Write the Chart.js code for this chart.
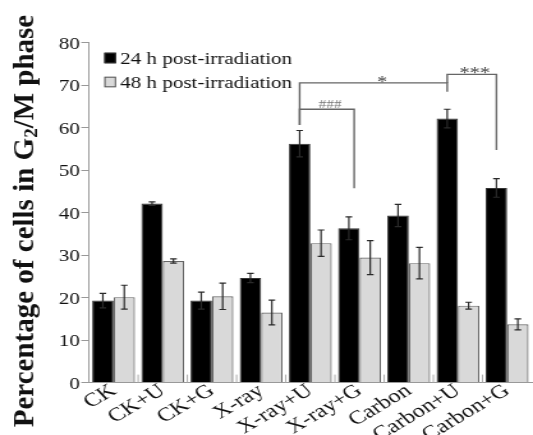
<!DOCTYPE html>
<html>
<head>
<meta charset="utf-8">
<script src="https://cdn.jsdelivr.net/npm/chart.js@4.4.0/dist/chart.umd.min.js"></script>
<style>
  html, body { margin: 0; padding: 0; background: #fff; overflow: hidden; }
  /* the original figure is stretched horizontally, so draw narrow and stretch */
  #wrap { width: 417px; height: 435px; transform: scaleX(1.2782); transform-origin: 0 0; }
</style>
</head>
<body>
<div id="wrap"><canvas id="g2mChart"></canvas></div>
<script>
const STRETCH = 533 / 417

const categories = ['CK', 'CK+U', 'CK+G', 'X-ray', 'X-ray+U', 'X-ray+G', 'Carbon', 'Carbon+U', 'Carbon+G']
const values24h = [19.3, 42.1, 19.3, 24.6, 56.2, 36.3, 39.3, 62.1, 45.8]
const errors24h = [1.7, 0.4, 2.0, 1.1, 3.1, 2.7, 2.6, 2.2, 2.2]
const values48h = [20.1, 28.6, 20.3, 16.5, 32.8, 29.4, 28.1, 18.1, 13.7]
const errors48h = [2.8, 0.5, 3.1, 2.9, 3.1, 4.0, 3.7, 0.8, 1.3]
const yTicks = [0, 10, 20, 30, 40, 50, 60, 70, 80]
const seriesLabels = ['24 h post-irradiation', '48 h post-irradiation']

// significance brackets between 24 h bars (heights in % units)
const brackets = [
  { from: 4, to: 7, y: 70.5, fromEnd: 60.6, toEnd: 68.4, label: '*' },
  { from: 7, to: 8, y: 72.5, fromEnd: 70.5, toEnd: 54.7, label: '***' },
  { from: 4, to: 5, y: 64.3, fromEnd: 60.6, toEnd: 45.7, label: '###' }
]

const serif = '"Liberation Serif", "Times New Roman", serif'

// error bars drawn on top of each bar
const errorBarPlugin = {
  id: 'errorBars',
  afterDatasetsDraw(chart) {
    const { ctx } = chart
    const y = chart.scales.y
    const errs = [errors24h, errors48h]
    ctx.save()
    ctx.strokeStyle = '#2a2a2a'
    ctx.lineWidth = 1.2
    chart.data.datasets.forEach((ds, di) => {
      chart.getDatasetMeta(di).data.forEach((bar, i) => {
        const top = y.getPixelForValue(ds.data[i] + errs[di][i])
        const bot = y.getPixelForValue(ds.data[i] - errs[di][i])
        const cap = 2.6
        ctx.beginPath()
        ctx.moveTo(bar.x, top)
        ctx.lineTo(bar.x, bot)
        ctx.moveTo(bar.x - cap, top)
        ctx.lineTo(bar.x + cap, top)
        ctx.moveTo(bar.x - cap, bot)
        ctx.lineTo(bar.x + cap, bot)
        ctx.stroke()
      })
    })
    ctx.restore()
  }
}

// brackets, legend, category ticks and the y title
const extrasPlugin = {
  id: 'extras',
  afterDraw(chart) {
    const { ctx, chartArea } = chart
    const x = chart.scales.x
    const y = chart.scales.y
    const bars = chart.getDatasetMeta(0).data

    // small inward ticks between categories
    ctx.save()
    ctx.strokeStyle = '#aaa'
    ctx.lineWidth = 1
    for (let i = 1; i < categories.length; i++) {
      const px = (x.getPixelForTick(i - 1) + x.getPixelForTick(i)) / 2
      ctx.beginPath()
      ctx.moveTo(px, chartArea.bottom)
      ctx.lineTo(px, chartArea.bottom - 8)
      ctx.stroke()
    }
    ctx.restore()

    // significance brackets
    ctx.save()
    ctx.strokeStyle = '#666'
    ctx.lineWidth = 1.4
    brackets.forEach((b) => {
      const x1 = bars[b.from].x
      let x2 = bars[b.to].x
      if (b.label === '###') x2 += bars[b.to].width * 0.25
      const yy = y.getPixelForValue(b.y)
      ctx.beginPath()
      ctx.moveTo(x1, y.getPixelForValue(b.fromEnd))
      ctx.lineTo(x1, yy)
      ctx.lineTo(x2, yy)
      ctx.lineTo(x2, y.getPixelForValue(b.toEnd))
      ctx.stroke()
      const small = b.label === '###'
      ctx.fillStyle = small ? '#777' : '#444'
      ctx.font = (small ? '12px ' : '16px ') + serif
      ctx.textAlign = 'center'
      ctx.textBaseline = 'alphabetic'
      ctx.fillText(b.label, x1 + (x2 - x1) * 0.56, yy + (small ? -1.5 : 4))
    })
    ctx.restore()

    // legend
    ctx.save()
    const lx = 81.6
    const rows = [
      { top: 52.7, fill: '#000', stroke: '#333', base: 64 },
      { top: 76.7, fill: '#d9d9d9', stroke: '#555', base: 88 }
    ]
    rows.forEach((r, i) => {
      ctx.fillStyle = r.fill
      ctx.fillRect(lx, r.top, 9.2, 10.6)
      ctx.strokeStyle = r.stroke
      ctx.lineWidth = 1
      ctx.strokeRect(lx + 0.5, r.top + 0.5, 8.2, 9.6)
      ctx.fillStyle = '#111'
      ctx.font = '16.5px ' + serif
      ctx.textAlign = 'left'
      ctx.textBaseline = 'alphabetic'
      ctx.fillText(seriesLabels[i], 93.9, r.base)
    })
    ctx.restore()

    // y title, un-stretched so it keeps normal proportions
    ctx.save()
    ctx.translate(26, 221)
    ctx.scale(1 / STRETCH, 1)
    ctx.rotate(-Math.PI / 2)
    ctx.fillStyle = '#111'
    ctx.textBaseline = 'alphabetic'
    ctx.textAlign = 'left'
    const big = 'bold 29px ' + serif
    const sub = 'bold 19px ' + serif
    const p1 = 'Percentage of cells in G'
    const p2 = '2'
    const p3 = '/M phase'
    ctx.font = big
    const w1 = ctx.measureText(p1).width
    const w3 = ctx.measureText(p3).width
    ctx.font = sub
    const w2 = ctx.measureText(p2).width
    let tx = -(w1 + w2 + w3) / 2
    ctx.font = big
    ctx.fillText(p1, tx, 0)
    tx += w1
    ctx.font = sub
    ctx.fillText(p2, tx, 4)
    tx += w2
    ctx.font = big
    ctx.fillText(p3, tx, 0)
    ctx.restore()
  }
}

new Chart(document.getElementById('g2mChart'), {
  type: 'bar',
  data: {
    labels: categories,
    datasets: [
      {
        label: seriesLabels[0],
        data: values24h,
        backgroundColor: '#000',
        borderColor: '#333',
        borderWidth: 1,
        categoryPercentage: 0.87,
        barPercentage: 1.0
      },
      {
        label: seriesLabels[1],
        data: values48h,
        backgroundColor: '#d9d9d9',
        borderColor: '#666',
        borderWidth: 1.2,
        categoryPercentage: 0.87,
        barPercentage: 1.0
      }
    ]
  },
  options: {
    responsive: true,
    maintainAspectRatio: false,
    animation: false,
    layout: {
      padding: { top: 42.5, right: 1, bottom: 0, left: 0 }
    },
    plugins: {
      legend: { display: false },
      tooltip: { enabled: false }
    },
    scales: {
      x: {
        grid: { display: false, drawTicks: false },
        border: { display: true, color: '#999', width: 1 },
        ticks: {
          autoSkip: false,
          maxRotation: 37,
          minRotation: 37,
          padding: -3,
          color: '#111',
          font: { family: serif, size: 19 }
        },
        afterFit(scale) {
          scale.height = 52.4
        }
      },
      y: {
        min: 0,
        max: 80,
        afterBuildTicks(scale) {
          scale.ticks = yTicks.map((v) => ({ value: v }))
        },
        grid: {
          drawOnChartArea: false,
          drawTicks: true,
          tickLength: 6,
          color: '#999'
        },
        border: { display: true, color: '#999', width: 1 },
        ticks: {
          padding: 1,
          labelOffset: 2,
          color: '#111',
          font: { family: serif, size: 16.5 }
        },
        afterFit(scale) {
          scale.width = 69.6
        }
      }
    }
  },
  plugins: [errorBarPlugin, extrasPlugin]
})
</script>
</body>
</html>
